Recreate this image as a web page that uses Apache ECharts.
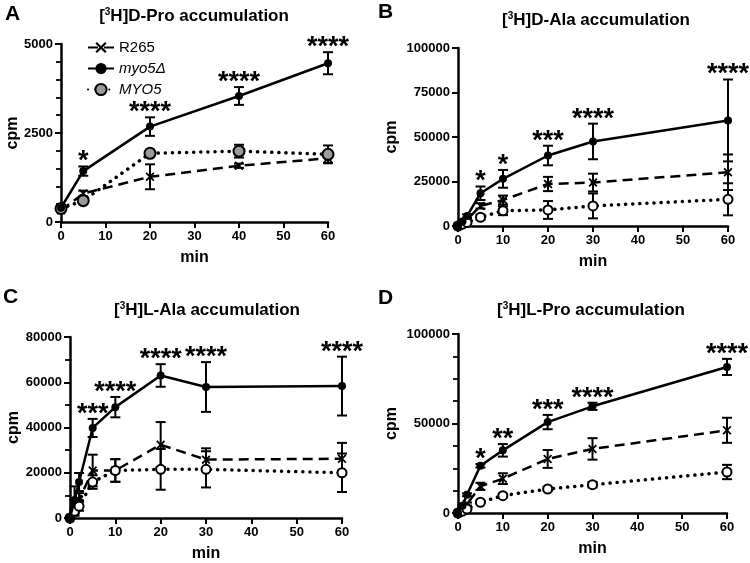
<!DOCTYPE html>
<html><head><meta charset="utf-8">
<script src="https://cdn.jsdelivr.net/npm/echarts@6/dist/echarts.min.js"></script>
<style>html,body{margin:0;padding:0;background:#fff}#c{width:750px;height:563px}</style>
</head><body><div id="c"></div>
<script>
const FONT = "'Liberation Sans', Arial, Helvetica, sans-serif";

// ---------- Panel A: [3H]D-Pro ----------
const timeA = [0, 5, 20, 40, 60];
const r265A = [330, 800, 1270, 1580, 1790];
const r265ErrA = [50, 80, 350, 60, 130];
const myoDelA = [400, 1430, 2680, 3540, 4460];
const myoDelErrA = [80, 130, 260, 250, 310];
const myo5A = [380, 600, 1930, 1990, 1900];
const myo5ErrA = [50, 60, 100, 180, 250];
const starsA = ['', '*', '****', '****', '****'];

// ---------- Panel B: [3H]D-Ala ----------
const timeB = [0, 1, 2, 5, 10, 20, 30, 60];
const r265B = [0, 1500, 3500, 11300, 14600, 23600, 24400, 30200];
const r265ErrB = [0, 300, 800, 1500, 2500, 4000, 5000, 10000];
const myoDelB = [0, 2500, 5600, 18400, 26500, 39600, 47500, 59300];
const myoDelErrB = [0, 500, 1000, 3800, 5000, 5500, 10000, 23000];
const myo5B = [0, 1000, 2000, 4900, 8600, 9000, 11300, 15000];
const myo5ErrB = [0, 300, 600, 1500, 2500, 5000, 7000, 9000];
const starsB = ['', '', '', '*', '*', '***', '****', '****'];

// ---------- Panel C: [3H]L-Ala ----------
const timeC = [0, 1, 2, 5, 10, 20, 30, 60];
const r265C = [0, 5000, 8000, 21000, 21000, 32400, 25800, 26200];
const r265ErrC = [0, 3000, 3000, 7000, 5000, 10000, 5000, 7000];
const myoDelC = [0, 8000, 15900, 39800, 49000, 63000, 57900, 58300];
const myoDelErrC = [0, 6000, 4000, 4000, 4500, 5000, 11000, 13000];
const myo5C = [0, 3000, 5200, 15900, 21000, 21500, 21500, 20000];
const myo5ErrC = [0, 2000, 2000, 3000, 5000, 9000, 8000, 8500];
const starsC = ['', '', '', '***', '****', '****', '****', '****'];

// ---------- Panel D: [3H]L-Pro ----------
const timeD = [0, 1, 2, 5, 10, 20, 30, 60];
const r265D = [0, 2000, 5000, 14900, 19200, 30200, 35800, 46200];
const r265ErrD = [0, 500, 800, 2000, 3000, 5000, 6000, 7000];
const myoDelD = [0, 4000, 10200, 26400, 35000, 50800, 59600, 81600];
const myoDelErrD = [0, 500, 800, 1000, 3500, 4000, 2000, 4500];
const myo5D = [0, 1000, 2200, 6000, 9700, 13400, 15800, 22900];
const myo5ErrD = [0, 300, 500, 500, 1000, 1000, 1500, 4000];
const starsD = ['', '', '', '*', '**', '***', '****', '****'];

// tick settings
const yMaxes = [5000, 100000, 80000, 100000];
const yIntervals = [2500, 25000, 20000, 50000];
const yMinorSplits = [5, 0, 2, 4];

const titles = ['[{s|3}H]D-Pro accumulation', '[{s|3}H]D-Ala accumulation', '[{s|3}H]L-Ala accumulation', '[{s|3}H]L-Pro accumulation'];
const letters = ['A', 'B', 'C', 'D'];

const panels = [
  {time: timeA, r: r265A, re: r265ErrA, m: myoDelA, me: myoDelErrA, w: myo5A, we: myo5ErrA, stars: starsA},
  {time: timeB, r: r265B, re: r265ErrB, m: myoDelB, me: myoDelErrB, w: myo5B, we: myo5ErrB, stars: starsB},
  {time: timeC, r: r265C, re: r265ErrC, m: myoDelC, me: myoDelErrC, w: myo5C, we: myo5ErrC, stars: starsC},
  {time: timeD, r: r265D, re: r265ErrD, m: myoDelD, me: myoDelErrD, w: myo5D, we: myo5ErrD, stars: starsD}
];

// layout (pixels)
const grids = [
  {left: 61, top: 44, width: 267, height: 178},
  {left: 458, top: 48, width: 270, height: 178},
  {left: 70, top: 337, width: 272, height: 181},
  {left: 458, top: 334, width: 269, height: 179}
];
const yNameGaps = [34, 58, 42, 58];
const titlePos = [[194, 16], [596, 20], [207, 310], [591, 310]];
const letterPos = [[5, 14], [378, 12], [3, 297], [378, 298]];

const xPath = 'path://M0,1.4 L1.4,0 L5,3.6 L8.6,0 L10,1.4 L6.4,5 L10,8.6 L8.6,10 L5,6.4 L1.4,10 L0,8.6 L3.6,5 Z';

const xAxes = [], yAxes = [], series = [], graphics = [];
panels.forEach((p, i) => {
  xAxes.push({
    gridIndex: i, type: 'value', min: 0, max: 60, interval: 10,
    name: 'min', nameLocation: 'middle', nameGap: 28,
    nameTextStyle: {fontFamily: FONT, fontWeight: 'bold', fontSize: 16, color: '#000'},
    axisLine: {onZero: false, lineStyle: {color: '#000', width: 2.5}},
    axisTick: {length: 6, lineStyle: {width: 2, color: '#000'}},
    axisLabel: {fontFamily: FONT, fontWeight: 'bold', fontSize: 13, color: '#000', margin: 8, formatter: v => String(v)},
    splitLine: {show: false}
  });
  yAxes.push({
    gridIndex: i, type: 'value', min: 0, max: yMaxes[i], interval: yIntervals[i],
    name: 'cpm', nameLocation: 'middle', nameGap: yNameGaps[i],
    nameTextStyle: {fontFamily: FONT, fontWeight: 'bold', fontSize: 16, color: '#000'},
    axisLine: {show: true, lineStyle: {color: '#000', width: 2.5}},
    axisTick: {show: true, length: 6, lineStyle: {width: 2, color: '#000'}},
    minorTick: {show: yMinorSplits[i] > 0, splitNumber: yMinorSplits[i] || 5, length: 5, lineStyle: {width: 1.8, color: '#000'}},
    axisLabel: {fontFamily: FONT, fontWeight: 'bold', fontSize: 13, color: '#000', margin: 8, formatter: v => String(v)},
    splitLine: {show: false}, minorSplitLine: {show: false}
  });
  const zip = (arr) => p.time.map((t, k) => [t, arr[k]]);
  // error bars
  const errData = [];
  [[p.r, p.re], [p.m, p.me], [p.w, p.we]].forEach(([v, e]) => {
    p.time.forEach((t, k) => { if (e[k] > 0) errData.push([t, v[k], e[k]]); });
  });
  series.push({
    type: 'custom', xAxisIndex: i, yAxisIndex: i, z: 1, silent: true,
    data: errData,
    renderItem: (params, api) => {
      const t = api.value(0), v = api.value(1), e = api.value(2);
      const top = api.coord([t, v + e]);
      const bot = api.coord([t, Math.max(0, v - e)]);
      const hw = 5;
      const st = {stroke: '#000', lineWidth: 2};
      return {type: 'group', children: [
        {type: 'line', shape: {x1: top[0], y1: top[1], x2: bot[0], y2: bot[1]}, style: st},
        {type: 'line', shape: {x1: top[0] - hw, y1: top[1], x2: top[0] + hw, y2: top[1]}, style: st},
        {type: 'line', shape: {x1: bot[0] - hw, y1: bot[1], x2: bot[0] + hw, y2: bot[1]}, style: st}
      ]};
    }
  });
  series.push({
    name: 'R265', type: 'line', xAxisIndex: i, yAxisIndex: i, data: zip(p.r), z: 3,
    symbol: xPath, symbolSize: 9, showAllSymbol: true,
    lineStyle: {color: '#000', width: 2.5, type: [10, 6]},
    itemStyle: {color: '#000'}
  });
  series.push({
    name: 'MYO5', type: 'line', xAxisIndex: i, yAxisIndex: i, data: zip(p.w), z: 3,
    symbol: 'circle', symbolSize: i === 0 ? 11 : 9, showAllSymbol: true,
    lineStyle: {color: '#000', width: 3.5, type: [0.1, 7], cap: 'round'},
    itemStyle: {color: i === 0 ? '#9a9a9a' : '#fff', borderColor: '#000', borderWidth: 2}
  });
  series.push({
    name: 'myo5Δ', type: 'line', xAxisIndex: i, yAxisIndex: i, data: zip(p.m), z: 4,
    symbol: 'circle', symbolSize: 8, showAllSymbol: true,
    lineStyle: {color: '#000', width: 2.5},
    itemStyle: {color: '#000'}
  });
  // significance stars, placed above the highest error bar at each time
  const tops = p.time.map((t, k) => [t, Math.max(p.r[k] + p.re[k], p.m[k] + p.me[k], p.w[k] + p.we[k])]);
  series.push({
    type: 'custom', xAxisIndex: i, yAxisIndex: i, z: 5, silent: true, clip: false,
    data: tops,
    renderItem: (params, api) => {
      const lab = p.stars[params.dataIndex];
      if (!lab) return null;
      const c = api.coord([api.value(0), api.value(1)]);
      return {type: 'text', x: c[0], y: c[1] + 9, style: {
        text: lab, fill: '#000', font: 'bold 27px ' + FONT, textAlign: 'center', textVerticalAlign: 'bottom'
      }};
    }
  });
  graphics.push({
    type: 'text', x: titlePos[i][0], y: titlePos[i][1],
    style: {text: titles[i], fill: '#000', font: 'bold 17px ' + FONT, textAlign: 'center', textVerticalAlign: 'middle',
      rich: {s: {fontSize: 10, fontWeight: 'bold', fontFamily: FONT, verticalAlign: 'top', padding: [0, 0, 6, 0]}}}
  });
  graphics.push({
    type: 'text', x: letterPos[i][0], y: letterPos[i][1],
    style: {text: letters[i], fill: '#000', font: 'bold 21px ' + FONT, textAlign: 'left', textVerticalAlign: 'middle'}
  });
});

const chart = echarts.init(document.getElementById('c'), null, {renderer: 'canvas'});
chart.setOption({
  animation: false,
  backgroundColor: '#fff',
  grid: grids,
  xAxis: xAxes,
  yAxis: yAxes,
  legend: {
    orient: 'vertical', left: 82, top: 35, itemWidth: 26, itemHeight: 14, itemGap: 6,
    textStyle: {fontFamily: FONT, fontSize: 15, color: '#000'},
    inactiveColor: '#000',
    data: [
      {name: 'R265', textStyle: {color: '#000'}},
      {name: 'myo5Δ', textStyle: {fontStyle: 'italic', color: '#000'}},
      {name: 'MYO5', textStyle: {fontStyle: 'italic', color: '#000'}}
    ]
  },
  graphic: graphics,
  series: series
});
</script></body></html>
